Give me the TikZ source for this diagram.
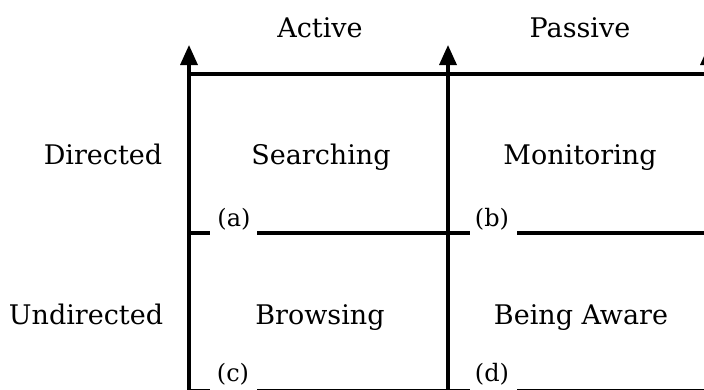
\documentclass[tikz,border=0pt]{standalone}
\usepackage{fontspec}
\setmainfont{DejaVu Serif}
\usetikzlibrary{arrows.meta}
\tikzset{
  axis/.style={line width=3.4pt, -{Triangle[length=20pt,width=17pt]}},
  rule/.style={line width=3.4pt},
  lab/.style={font=\fontsize{27}{32}\selectfont, anchor=base},
  tag/.style={font=\fontsize{24}{28}\selectfont, anchor=base}
}
\begin{document}
\begin{tikzpicture}[x=1pt,y=-1pt]
\useasboundingbox (0,0) rectangle (704,389);
\clip (0,0) rectangle (704,389);
% axes
\coordinate (v1b) at (189,395); \coordinate (v1t) at (189,45);
\coordinate (v2b) at (448,395); \coordinate (v2t) at (448,45);
\coordinate (v3b) at (709,395); \coordinate (v3t) at (709,45);
\draw[axis] (v1b) -- (v1t);
\draw[axis] (v2b) -- (v2t);
\draw[axis] (v3b) -- (v3t);
% top rule
\coordinate (t1) at (188,74); \coordinate (t2) at (710,74);
\draw[rule] (t1) -- (t2);
% middle rule with gaps
\coordinate (m1) at (189,233); \coordinate (m2) at (210,233);
\coordinate (m3) at (257,233); \coordinate (m4) at (470,233);
\coordinate (m5) at (517,233); \coordinate (m6) at (710,233);
\draw[rule] (m1) -- (m2) (m3) -- (m4) (m5) -- (m6);
% bottom rule with gaps
\coordinate (b1) at (189,390.5); \coordinate (b2) at (210,390.5);
\coordinate (b3) at (257,390.5); \coordinate (b4) at (470,390.5);
\coordinate (b5) at (517,390.5); \coordinate (b6) at (710,390.5);
\draw[rule] (b1) -- (b2) (b3) -- (b4) (b5) -- (b6);
% headings
\node[lab] (active) at (320,37) {Active};
\node[lab] (passive) at (580,37) {Passive};
\node[lab] (directed) at (103,164) {Directed};
\node[lab] (undirected) at (86,324) {Undirected};
% cells
\node[lab] (search) at (321,164) {Searching};
\node[lab] (monitor) at (580,164) {Monitoring};
\node[lab] (browse) at (320,324) {Browsing};
\node[lab] (aware) at (581,324) {Being Aware};
% tags
\node[tag] (a) at (234,226) {(a)};
\node[tag] (b) at (492,226) {(b)};
\node[tag] (c) at (233,381) {(c)};
\node[tag] (d) at (492,381) {(d)};
\end{tikzpicture}
\end{document}
